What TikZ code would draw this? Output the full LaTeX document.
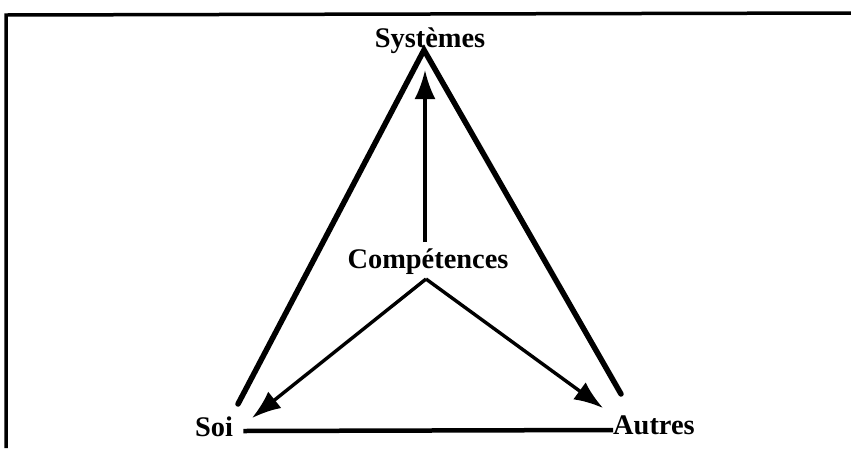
\documentclass[tikz,border=0pt]{standalone}
\usepackage{fontspec}
\setmainfont{Liberation Serif}
\usetikzlibrary{arrows.meta}
\begin{document}
\begin{tikzpicture}[x=1pt,y=-1pt]
    \tikzset{
      label text/.style={
        inner sep=0pt,
        font=\fontsize{28.4}{34}\selectfont\bfseries,
     },
      side/.style={line width=5.5pt, line cap=round, line join=miter},
      push/.style={line width=3.4pt, -{Latex[length=29pt,width=21pt]}}
    }
    \useasboundingbox (0,0) rectangle (851,448);
    % frame
    \draw[line width=3.5pt] (851,13) -- (6,15) -- (6,448);
    %
    \node[label text, anchor=base] (sys) at (430,47) {Systèmes};
    \node[label text, anchor=base] (comp) at (428,268) {Compétences};
    \node[label text, anchor=base west] (soi) at (195,436) {Soi};
    \node[label text, anchor=base west] (autres) at (613,434) {Autres};
    %
    \coordinate (apex) at (424,50);
    \coordinate (leftend) at (238,404);
    \coordinate (rightend) at (621,394);
    \coordinate (fork) at (426,279);
    \coordinate (systip) at (425,70);
    \coordinate (soitip) at (252,418);
    \coordinate (autrestip) at (603,408);
    %
    \draw[side] (leftend) -- (apex) -- (rightend);
    \draw[line width=4.5pt] ([xshift=10pt,yshift=5pt]soi.base east)
      -- ([yshift=4pt]autres.base west);
    %
    \draw[push] ([yshift=6pt]systip |- comp.north) -- (systip);
    \draw[push] (fork) -- (soitip);
    \draw[push] (fork) -- (autrestip);
\end{tikzpicture}
\end{document}
